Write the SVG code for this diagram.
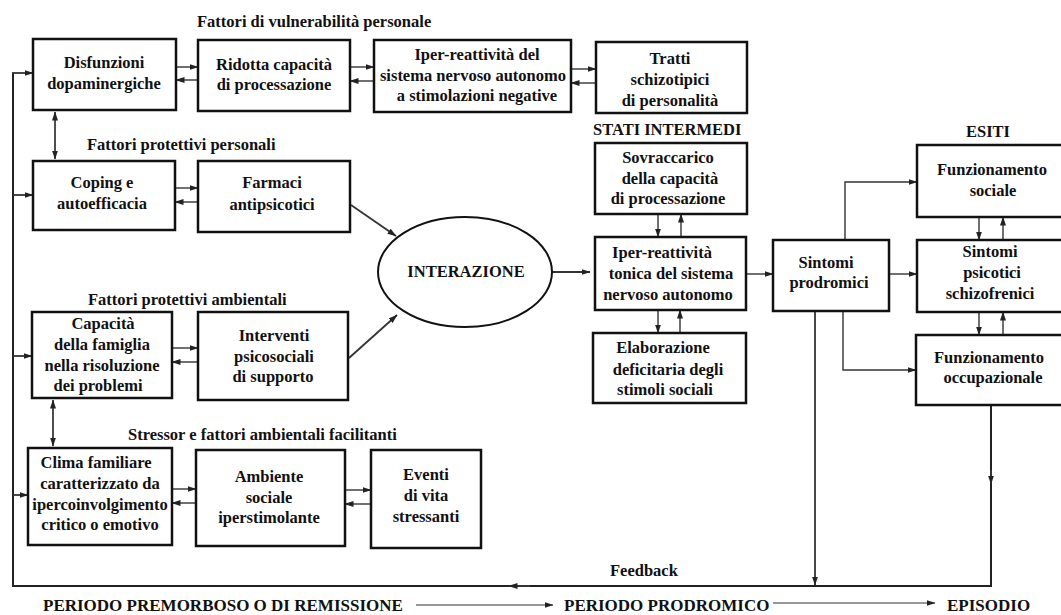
<svg xmlns="http://www.w3.org/2000/svg" width="1061" height="615" viewBox="0 0 1061 615">
<defs>
<marker id="ah" markerWidth="9" markerHeight="7" refX="8.5" refY="3.5" orient="auto" markerUnits="userSpaceOnUse">
<path d="M0,0.5 L9,3.5 L0,6.5 z" fill="#222"/>
</marker>
<marker id="ahs" markerWidth="9" markerHeight="7" refX="0.5" refY="3.5" orient="auto" markerUnits="userSpaceOnUse">
<path d="M9,0.5 L0,3.5 L9,6.5 z" fill="#222"/>
</marker>
</defs>
<style>
.box{fill:#fff;stroke:#111;stroke-width:2.5}
.t{font-family:"Liberation Serif","Times New Roman",serif;font-weight:bold;font-size:16.5px;fill:#111;text-anchor:middle}
.h{font-family:"Liberation Serif","Times New Roman",serif;font-weight:bold;font-size:16.5px;fill:#111}
.c{fill:none;stroke:#333;stroke-width:1.4}
.ca{fill:none;stroke:#333;stroke-width:1.4;marker-end:url(#ah)}
.cd{fill:none;stroke:#222;stroke-width:1.6;marker-end:url(#ah);marker-start:url(#ahs)}
.fb{fill:none;stroke:#222;stroke-width:2}
</style>
<rect width="1061" height="615" fill="#fff"/>

<!-- headers -->
<g id="labels">
<text class="h" x="197" y="27">Fattori di vulnerabilità personale</text>
<text class="h" x="87" y="150">Fattori protettivi personali</text>
<text class="h" x="88" y="305">Fattori protettivi ambientali</text>
<text class="h" x="128" y="440">Stressor e fattori ambientali facilitanti</text>
<text class="h" x="593" y="135">STATI INTERMEDI</text>
<text class="h" x="966" y="137">ESITI</text>
<text class="h" x="610" y="576">Feedback</text>
<text class="h" x="43" y="611" style="font-size:17px">PERIODO PREMORBOSO O DI REMISSIONE</text>
<text class="h" x="564" y="611" style="font-size:17px">PERIODO PRODROMICO</text>
<text class="h" x="947" y="611" style="font-size:17px">EPISODIO</text>
</g>

<!-- connectors -->
<g id="connectors">
<path class="ca" d="M176,67 H198"/><path class="ca" d="M198,80 H176"/>
<path class="ca" d="M350,67 H374"/><path class="ca" d="M374,81 H350"/>
<path class="ca" d="M571,69 H596"/><path class="ca" d="M596,83 H571"/>
<path class="ca" d="M175,188 H198"/><path class="ca" d="M198,202 H175"/>
<path class="ca" d="M172,348 H198"/><path class="ca" d="M198,362 H172"/>
<path class="ca" d="M172,489 H196"/><path class="ca" d="M196,503 H172"/>
<path class="ca" d="M345,490 H371"/><path class="ca" d="M371,504 H345"/>
<path class="cd" d="M55,112 V159"/>
<path class="cd" d="M53,400 V446"/>
<path class="ca" d="M351,205 L396,236" style="stroke-width:1.8"/>
<path class="ca" d="M349,358 L397,315" style="stroke-width:1.8"/>
<path class="ca" d="M552,272 H590" style="stroke-width:1.8"/>
<path class="ca" d="M658,214 V237"/><path class="ca" d="M681,237 V214"/>
<path class="ca" d="M658,310 V333"/><path class="ca" d="M680,333 V310"/>
<path class="ca" d="M746,274 H773"/>
<path class="ca" d="M845,240 V182 H917"/>
<path class="ca" d="M889,274 H917"/>
<path class="ca" d="M843,311 V370 H916"/>
<path class="ca" d="M815,311 V585" style="stroke-width:1.8"/>
<path class="ca" d="M979,217 V240"/><path class="ca" d="M1003,240 V217"/>
<path class="ca" d="M979,312 V335"/><path class="ca" d="M1003,335 V312"/>
<path class="fb" d="M991,405 V586 H13 V73"/>
<path class="ca" d="M991,470 V484" style="stroke-width:2"/>
<path class="ca" d="M530,586 H509" style="stroke-width:2"/>
<path class="ca" d="M12,73 H33" style="stroke-width:1.8"/>
<path class="ca" d="M13,195 H33" style="stroke-width:1.8"/>
<path class="ca" d="M13,356 H32" style="stroke-width:1.8"/>
<path class="ca" d="M13,495 H28" style="stroke-width:1.8"/>
<path class="ca" d="M416,605 H553" style="stroke-width:1"/>
<path class="ca" d="M773,603 H935" style="stroke-width:1"/>
</g>

<g id="n-disfunzioni"><rect class="box" x="33" y="39" width="143" height="71"/>
<text class="t" x="104" y="68">Disfunzioni</text><text class="t" x="104" y="89">dopaminergiche</text></g>
<g id="n-ridotta"><rect class="box" x="198" y="40" width="152" height="71"/>
<text class="t" x="274" y="70">Ridotta capacità</text><text class="t" x="274" y="90">di processazione</text></g>
<g id="n-iper"><rect class="box" x="374" y="40" width="197" height="72"/>
<text class="t" x="477" y="60">Iper-reattività del</text><text class="t" x="473" y="81">sistema nervoso autonomo</text><text class="t" x="477" y="101">a stimolazioni negative</text></g>
<g id="n-tratti"><rect class="box" x="596" y="42" width="151" height="71"/>
<text class="t" x="670" y="64">Tratti</text><text class="t" x="670" y="85">schizotipici</text><text class="t" x="670" y="106">di personalità</text></g>
<g id="n-coping"><rect class="box" x="33" y="161" width="142" height="69"/>
<text class="t" x="102" y="188">Coping e</text><text class="t" x="102" y="209">autoefficacia</text></g>
<g id="n-farmaci"><rect class="box" x="198" y="161" width="152" height="71"/>
<text class="t" x="272" y="188">Farmaci</text><text class="t" x="272" y="210">antipsicotici</text></g>
<g id="n-capacita"><rect class="box" x="32" y="312" width="140" height="86"/>
<text class="t" x="103" y="329">Capacità</text><text class="t" x="102" y="350">della famiglia</text><text class="t" x="102" y="371">nella risoluzione</text><text class="t" x="98" y="391">dei problemi</text></g>
<g id="n-interventi"><rect class="box" x="198" y="312" width="150" height="88"/>
<text class="t" x="274" y="341">Interventi</text><text class="t" x="274" y="362">psicosociali</text><text class="t" x="273" y="382">di supporto</text></g>
<g id="n-clima"><rect class="box" x="28" y="448" width="144" height="97"/>
<text class="t" x="96" y="468">Clima familiare</text><text class="t" x="100" y="489">caratterizzato da</text><text class="t" x="100" y="510">ipercoinvolgimento</text><text class="t" x="100" y="530">critico o emotivo</text></g>
<g id="n-ambiente"><rect class="box" x="196" y="450" width="149" height="96"/>
<text class="t" x="269" y="482">Ambiente</text><text class="t" x="269" y="503">sociale</text><text class="t" x="269" y="523">iperstimolante</text></g>
<g id="n-eventi"><rect class="box" x="371" y="450" width="110" height="98"/>
<text class="t" x="426" y="480">Eventi</text><text class="t" x="426" y="501">di vita</text><text class="t" x="426" y="522">stressanti</text></g>
<g id="n-interazione"><ellipse cx="465" cy="272" rx="87" ry="55" fill="#fff" stroke="#111" stroke-width="2"/>
<text class="t" x="466" y="277">INTERAZIONE</text></g>
<g id="n-sovraccarico"><rect class="box" x="595" y="143" width="152" height="71"/>
<text class="t" x="668" y="163">Sovraccarico</text><text class="t" x="670" y="184">della capacità</text><text class="t" x="668" y="204">di processazione</text></g>
<g id="n-tonica"><rect class="box" x="595" y="237" width="151" height="73"/>
<text class="t" x="662" y="258">Iper-reattività</text><text class="t" x="671" y="279">tonica del sistema</text><text class="t" x="668" y="300">nervoso autonomo</text></g>
<g id="n-elaborazione"><rect class="box" x="593" y="333" width="153" height="70"/>
<text class="t" x="663" y="353">Elaborazione</text><text class="t" x="668" y="375">deficitaria degli</text><text class="t" x="665" y="395">stimoli sociali</text></g>
<g id="n-prodromici"><rect class="box" x="773" y="240" width="116" height="71"/>
<text class="t" x="826" y="268">Sintomi</text><text class="t" x="829" y="288">prodromici</text></g>
<g id="n-sociale"><rect class="box" x="917" y="145" width="147" height="72"/>
<text class="t" x="992" y="175">Funzionamento</text><text class="t" x="993" y="196">sociale</text></g>
<g id="n-psicotici"><rect class="box" x="917" y="240" width="147" height="72"/>
<text class="t" x="990" y="257">Sintomi</text><text class="t" x="992" y="278">psicotici</text><text class="t" x="990" y="299">schizofrenici</text></g>
<g id="n-occupazionale"><rect class="box" x="916" y="335" width="148" height="70"/>
<text class="t" x="989" y="363">Funzionamento</text><text class="t" x="993" y="383">occupazionale</text></g>
</svg>
